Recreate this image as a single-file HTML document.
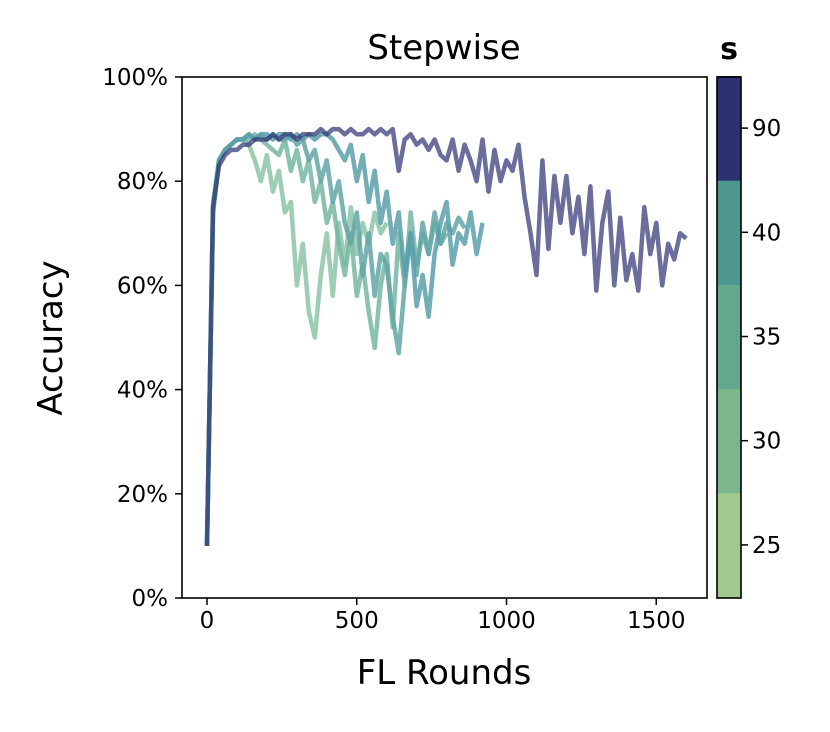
<!DOCTYPE html>
<html><head><meta charset="utf-8"><style>
body{margin:0;background:#fff;}
svg text{font-family:"DejaVu Sans","Liberation Sans",sans-serif;fill:#000;}
</style></head><body>
<svg id="chart" width="830" height="727" xmlns="http://www.w3.org/2000/svg">
<rect width="830" height="727" fill="#fff"/>
<g id="lines"></g>
<rect x="182" y="77" width="525" height="521" fill="none" stroke="#000" stroke-width="1.6"/>
<g id="axes"></g>
<text x="444" y="59" font-size="34" text-anchor="middle">Stepwise</text>
<text x="444" y="684" font-size="34" text-anchor="middle">FL Rounds</text>
<text transform="translate(62,338) rotate(-90)" font-size="34" text-anchor="middle">Accuracy</text>
<g id="cbar"></g>
<text x="729" y="59" font-size="30" font-weight="bold" text-anchor="middle">s</text>
</svg>
<script>
const sLevels=[25,30,35,40,90];
const sColors=["#a0c98e","#7db68b","#63a78c","#4e978e","#2c3172"];
const lineColors=["#8cc4a6","#76b6a2","#62a6a4","#5b9fab","#2c3172"];
const roundStep=20;
const acc25=[10,76,84,86,87,88,88,87,84,80,85,78,82,74,76,60,68,55,50,62,70,58,72,64,75,66,72,68,74,70,72];
const acc30=[10,75,84,86,87,88,88,88,89,88,87,86,85,88,82,86,80,84,76,80,72,76,68,62,70,58,64,55,48,60,66,52,70,60,74,64,70,66,72,68,70];
const acc35=[10,74,84,86,87,88,88,89,88,89,88,89,88,88,89,87,88,84,86,80,84,76,80,72,68,74,62,70,58,66,64,54,47,60,70,62,72,66,74,68,72,70,73,71];
const acc40=[10,74,84,86,87,88,88,89,88,89,89,88,89,89,88,89,88,89,88,89,89,88,86,84,87,80,85,76,82,72,78,68,74,62,70,56,62,54,66,72,76,64,70,68,74,66,72];
const acc90=[10,75,83,85,86,86,87,87,88,88,88,89,88,89,89,88,89,89,89,90,89,90,90,89,90,89,89,90,89,90,89,90,82,88,89,87,88,86,88,85,84,88,82,87,84,80,88,78,86,80,84,82,87,77,70,62,84,67,81,72,81,70,77,66,79,59,72,78,60,73,61,66,59,75,66,72,60,68,65,70,69];
const series=[acc25,acc30,acc35,acc40,acc90];
const xTicks=[0,500,1000,1500];
const yTicks=[0,20,40,60,80,100];

const NS="http://www.w3.org/2000/svg";
const X=r=>207+r*0.2995;
const Y=a=>598-a*5.21;
function mk(tag,attrs,parent){const e=document.createElementNS(NS,tag);for(const k in attrs)e.setAttribute(k,attrs[k]);parent.appendChild(e);return e;}
const lines=document.getElementById('lines');
series.forEach((arr,i)=>{
  const d=arr.map((v,j)=>(j?'L':'M')+X(j*roundStep).toFixed(1)+','+Y(v).toFixed(1)).join('');
  const p=mk('path',{d:d,fill:'none',stroke:lineColors[i],'stroke-opacity':i==4?0.7:0.85,'stroke-width':4.5,'stroke-linejoin':'round'},lines);
  
  
});
const axes=document.getElementById('axes');
xTicks.forEach(t=>{
  const l=mk('line',{x1:X(t),x2:X(t),y1:598,y2:605,stroke:'#000','stroke-width':1.5},axes);
  
  
  const tx=mk('text',{x:X(t),y:628,'font-size':23,'text-anchor':'middle'},axes);tx.textContent=t;
  
  
});
yTicks.forEach(t=>{
  const l=mk('line',{x1:175,x2:182,y1:Y(t),y2:Y(t),stroke:'#000','stroke-width':1.5},axes);
  
  
  const tx=mk('text',{x:168,y:Y(t)+8,'font-size':23,'text-anchor':'end'},axes);tx.textContent=t+'%';
  
  
});
const cb=document.getElementById('cbar');
const segH=104.2;
sLevels.forEach((s,i)=>{
  const y0=597-(i+1)*segH;
  const r=mk('rect',{x:717,y:y0,width:24,height:segH+0.5,fill:sColors[i]},cb);
  
  
  const yc=y0+segH/2;
  mk('line',{x1:741,x2:748,y1:yc,y2:yc,stroke:'#000','stroke-width':1.5},cb);
  const tx=mk('text',{x:752,y:yc+8,'font-size':23},cb);tx.textContent=s;
  
  
});
const f=mk('rect',{x:717,y:77,width:24,height:521,fill:'none',stroke:'#000','stroke-width':1.6},cb);


</script>
</body></html>
